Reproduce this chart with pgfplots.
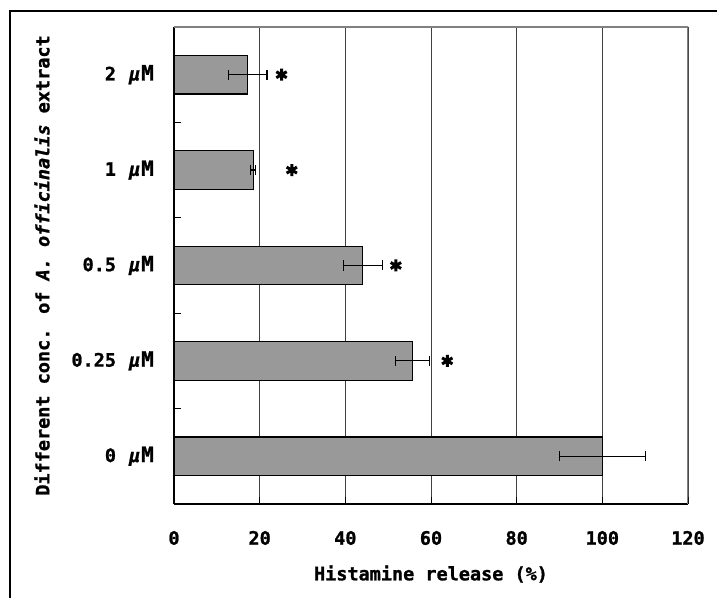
\documentclass[border=0pt]{standalone}
\usepackage{pgfplots}
\pgfplotsset{compat=1.18}
\usepackage{fontspec}
\setmainfont{DejaVu Sans Mono}[BoldFont={DejaVu Sans Mono Bold}, BoldItalicFont={DejaVu Sans Mono Bold Oblique}, BoldFeatures={FakeBold=1.2}, BoldItalicFeatures={FakeBold=1.2}]
\definecolor{barg}{HTML}{999999}
\newcommand{\um}{\hspace{13bp}{\itshape μ}\hspace{1bp}{\fontsize{21bp}{24bp}\selectfont M}}
\newcommand{\lfont}{\fontsize{18.5bp}{22bp}\selectfont\bfseries}
\begin{document}
\begin{tikzpicture}
\draw[black, line width=1.3bp] (10bp,0bp) -- (10bp,587bp) -- (717bp,587bp);
\begin{axis}[
  at={(174bp,94bp)}, anchor=south west,
  scale only axis, width=514bp, height=477bp,
  bar width=38.5bp,
  xmin=0, xmax=120, ymin=-0.5, ymax=4.5,
  axis x line*=bottom, axis y line*=left,
  axis line style={black, line width=1.2bp},
  xtick={0,20,...,120},
  ytick={0,1,2,3,4},
  yticklabels={{0\um},{0.25\um},{0.5\um},{1\um},{2\um}},
  minor ytick={0.5,1.5,2.5,3.5},
  tick align=inside,
  major tick length=7bp, minor tick length=7bp,
  major y tick style={draw=none},
  tick style={black, line width=1bp},
  xmajorgrids,
  grid style={black!75, line width=0.9bp},
  /pgf/number format/assume math mode=true,
  every tick label/.append style={font=\lfont, inner sep=0pt},
  xticklabel style={anchor=center, yshift=-34bp},
  yticklabel style={anchor=east, xshift=-20bp},
  xlabel={Histamine release (\%)},
  ylabel={Different conc. of \textit{A. officinalis} extract},
  every axis x label/.style={at={(rel axis cs:0.5,0)}, anchor=center, yshift=-70bp, font=\lfont, inner sep=0pt},
  every axis y label/.style={at={(rel axis cs:0,0.5)}, anchor=center, rotate=90, yshift=132bp, font=\lfont, inner sep=0pt},
]
\addplot[xbar, fill=barg, draw=black, line width=1.2bp,
  error bars/.cd, x dir=both, x explicit,
  error bar style={line width=1.2bp, black},
  error mark options={rotate=90, mark size=5bp, line width=1.2bp, black}]
  coordinates {
  (100,0) +- (10,0)
  (55.7,1) +- (3.9,0)
  (44.1,2) +- (4.5,0)
  (18.5,3) +- (0.6,0)
  (17.2,4) +- (4.5,0)
  };
\addplot[only marks, mark=asterisk, mark size=6bp, line width=3bp, black]
  coordinates {(63.8,1) (51.8,2) (27.5,3) (25.1,4)};
\draw[gray, line width=1.2bp] (rel axis cs:0,1) -- (rel axis cs:1,1) -- (rel axis cs:1,0);
\end{axis}
\pgfresetboundingbox
\path[use as bounding box] (0bp,0bp) rectangle (717bp,598bp);
\end{tikzpicture}
\end{document}
